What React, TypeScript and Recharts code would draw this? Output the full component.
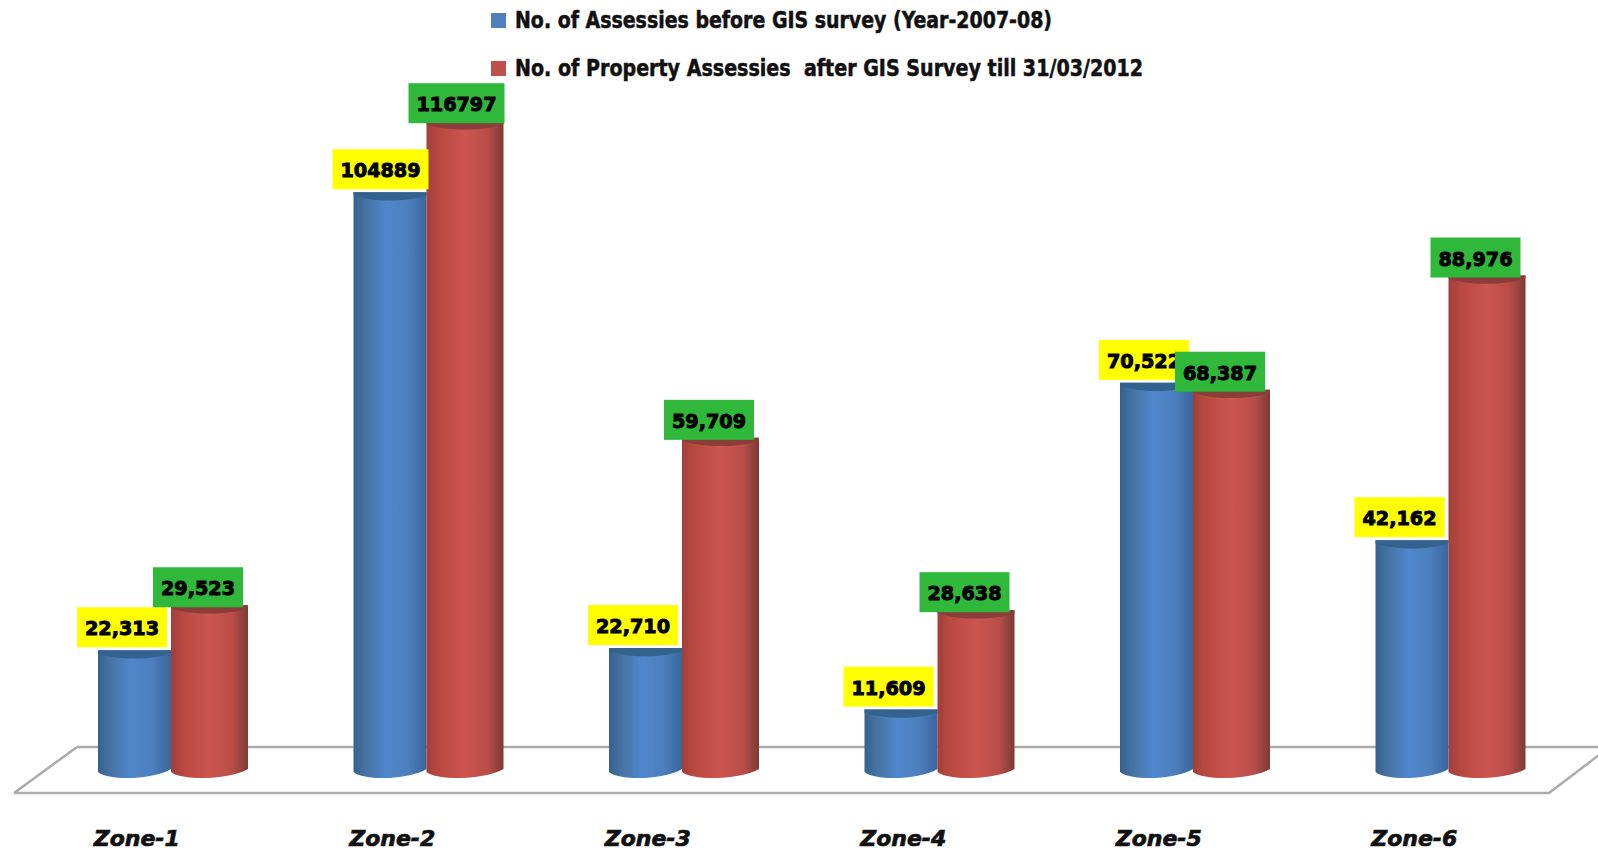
import React from 'react';
import { BarChart, Bar, XAxis, YAxis, Legend, LabelList, usePlotArea } from 'recharts';

const categories = ['Zone-1', 'Zone-2', 'Zone-3', 'Zone-4', 'Zone-5', 'Zone-6'];
const beforeValues = [22313, 104889, 22710, 11609, 70522, 42162];
const afterValues = [29523, 116797, 59709, 28638, 68387, 88976];
const beforeLabels = ['22,313', '104889', '22,710', '11,609', '70,522', '42,162'];
const afterLabels = ['29,523', '116797', '59,709', '28,638', '68,387', '88,976'];
const seriesNames = [
  'No. of Assessies before GIS survey (Year-2007-08)',
  'No. of Property Assessies  after GIS Survey till 31/03/2012',
];

const rows = categories.map((zone, i) => ({
  zone,
  before: beforeValues[i],
  after: afterValues[i],
  beforeLabel: beforeLabels[i],
  afterLabel: afterLabels[i],
}));

const Floor = () => {
  const p = usePlotArea();
  if (!p) return null;
  const l = p.x;
  const b = p.y + p.height;
  const d = `M${l + 34},${b - 27} L${l + 1560},${b - 27} M${l - 29},${b + 19} L${l + 34},${b - 27} M${l - 29},${b + 19} L${l + 1506},${b + 19} L${l + 1560},${b - 22}`;
  return <path d={d} fill="none" stroke="#ababab" strokeWidth={2.5} />;
};

const cylinder = (grad: string, rim: string, lift: number, extra: number, inset: number) => (props: any) => {
  const { x: x0, y: y0, width: w0, height: h } = props;
  const x = x0 + inset;
  const w = w0 + extra - inset;
  const y = y0 - lift;
  const base = y0 + h - 2;
  const body = `M${x},${y} L${x},${base} C${x + w * 0.15},${base + 9} ${x + w * 0.75},${base + 8} ${x + w},${base - 3} L${x + w},${y} Z`;
  const cap = `M${x},${y} L${x + w},${y} L${x + w},${y + 3} C${x + w * 0.75},${y + 10} ${x + w * 0.25},${y + 10} ${x},${y + 3} Z`;
  return (
    <g>
      <path d={body} fill={`url(#${grad})`} />
      <path d={cap} fill={rim} />
    </g>
  );
};

const tag = (color: string, dx: number, w: number, lift: number) => (props: any) => {
  const { x, y, value } = props;
  const text = String(value);
  const width = text.includes(',') ? w : w + 6;
  const height = 40;
  const left = x + dx;
  const top = y - lift - height;
  return (
    <g>
      <rect x={left} y={top} width={width} height={height} fill={color} />
      <text
        x={left + width / 2}
        y={top + height / 2 + 1}
        textAnchor="middle"
        dominantBaseline="central"
        fontFamily="DejaVu Sans"
        fontWeight={700}
        fontSize={20}
        fill="#000"
        stroke="#000"
        strokeWidth={1}
        textLength={width - 16}
        lengthAdjust="spacingAndGlyphs"
      >
        {text}
      </text>
    </g>
  );
};

const LegendBody = (props: any) => {
  const items = props.payload || [];
  const widths = [537, 628];
  const rowsY = [20, 68];
  return (
    <div style={{ position: 'relative', width: 1598, height: 53 }}>
      <svg width={1598} height={90} style={{ position: 'absolute', left: 0, top: 0, overflow: 'visible' }}>
        {items.map((it: any, i: number) => (
          <g key={it.value}>
            <rect x={491} y={rowsY[i] - 7} width={15} height={15} fill={it.color} />
            <text
              x={515}
              y={rowsY[i] + 8}
              fontFamily="DejaVu Sans Condensed, DejaVu Sans"
              fontWeight={700}
              fontSize={23}
              fill="#111"
              stroke="#111"
              strokeWidth={0.5}
              textLength={widths[i]}
              lengthAdjust="spacingAndGlyphs"
              xmlSpace="preserve"
            >
              {it.value}
            </text>
          </g>
        ))}
      </svg>
    </div>
  );
};

export default function App() {
  return (
    <div style={{ position: 'absolute', left: 0, top: 0, width: 1598, height: 854, background: '#fff', overflow: 'hidden' }}>
      <BarChart
        width={1598}
        height={854}
        data={rows}
        barSize={74}
        barGap={0}
        margin={{ top: 0, right: 22, bottom: 0, left: 43 }}
      >
        <defs>
          <linearGradient id="blueCyl" x1="0" y1="0" x2="1" y2="0">
            <stop offset="0" stopColor="#34628f" />
            <stop offset="0.15" stopColor="#44719f" />
            <stop offset="0.45" stopColor="#5087cb" />
            <stop offset="0.75" stopColor="#4c7fbd" />
            <stop offset="1" stopColor="#38659c" />
          </linearGradient>
          <linearGradient id="redCyl" x1="0" y1="0" x2="1" y2="0">
            <stop offset="0" stopColor="#a03f3b" />
            <stop offset="0.15" stopColor="#b8483f" />
            <stop offset="0.5" stopColor="#cc5550" />
            <stop offset="0.8" stopColor="#b84d48" />
            <stop offset="1" stopColor="#7c3a36" />
          </linearGradient>
        </defs>
        <Floor />
        <XAxis
          dataKey="zone"
          axisLine={false}
          tickLine={false}
          height={80}
          tickMargin={50}
          dx={-34}
          tick={{ fontFamily: 'DejaVu Sans', fontWeight: 700, fontStyle: 'italic', fontSize: 22, fill: '#111', stroke: '#111', strokeWidth: 0.7 }}
        />
        <YAxis hide domain={[0, 130000]} />
        <Legend verticalAlign="top" content={LegendBody} wrapperStyle={{ left: 0, top: 0, width: 1598, height: 53 }} />
        <Bar dataKey="before" name={seriesNames[0]} fill="#4f81bd" shape={cylinder('blueCyl', '#33628f', 0, 0, 1)} isAnimationActive={false}>
          <LabelList dataKey="beforeLabel" content={tag('#ffff00', -20, 90, 3)} />
        </Bar>
        <Bar dataKey="after" name={seriesNames[1]} fill="#c0504d" shape={cylinder('redCyl', '#8a3d39', 5, 3, 0)} isAnimationActive={false}>
          <LabelList dataKey="afterLabel" content={tag('#2fb83a', -18, 90, 3)} />
        </Bar>
      </BarChart>
    </div>
  );
}
